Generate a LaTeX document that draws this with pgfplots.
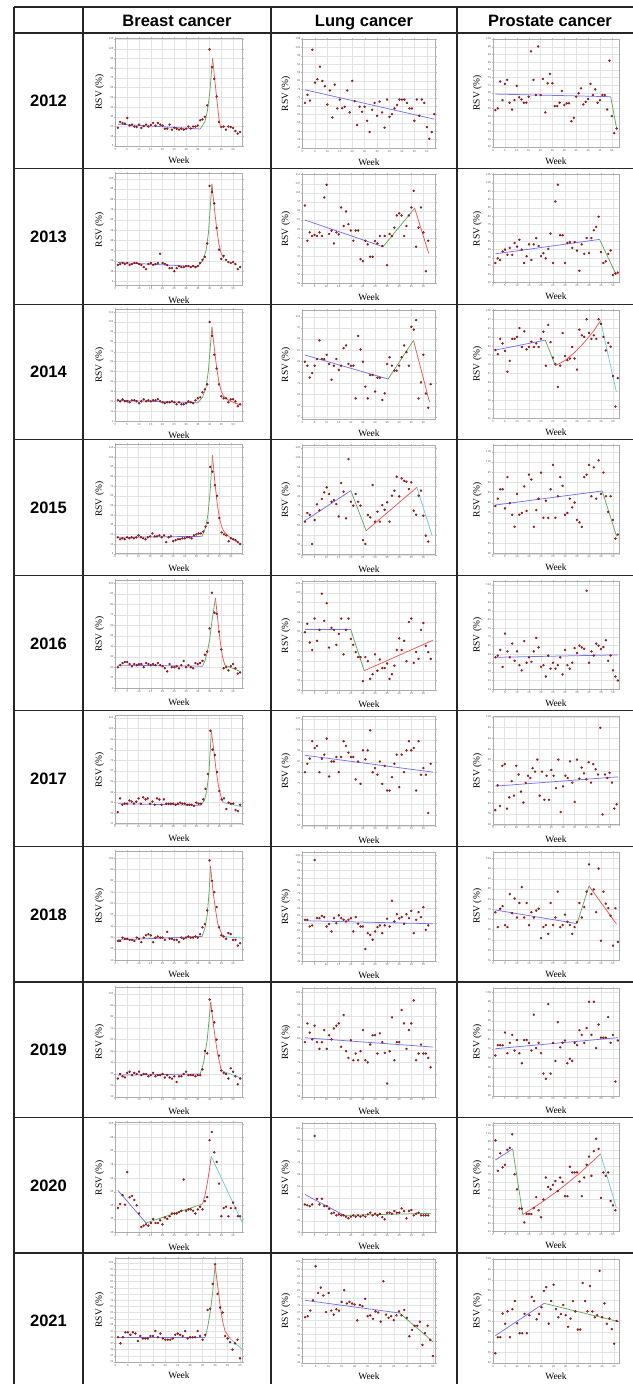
\documentclass[border=0pt]{standalone}
\usepackage{fontspec}
\setmainfont{Liberation Serif}
\setsansfont{Liberation Sans}
\newfontfamily\hdrfont{Liberation Sans}
\usepackage{pgfplots}
\pgfplotsset{compat=1.18}
\definecolor{dotred}{RGB}{200,28,28}
\definecolor{dotedge}{RGB}{105,10,10}
\definecolor{lblue}{RGB}{115,115,245}
\definecolor{lgreen}{RGB}{95,170,95}
\definecolor{lred}{RGB}{240,85,85}
\definecolor{lcyan}{RGB}{105,205,210}
\newcommand\tkf{\fontsize{2.8}{3}\sffamily}
\newcommand\lbf{\fontsize{9.5}{10}\selectfont}
\newcommand\hdr{\hdrfont\bfseries\fontsize{16.5}{18}\selectfont}
\pgfplotsset{
 pan/.style={scale only axis, anchor=north west, xmin=0, xtick={0,5,...,50},
  grid=major, major grid style={draw=gray!22, line width=0.35pt},
  axis line style={draw=gray!65, line width=0.7pt},
  tick style={draw=gray!55, line width=0.3pt}, major tick length=1.3pt, tick align=outside,
  ticklabel style={font=\tkf, text=black!65, inner sep=0.6pt},
  /pgf/number format/assume math mode=true, /pgf/number format/1000 sep={},
  xlabel={Week}, ylabel={RSV (\%)}, label style={font=\lbf},
  xlabel style={at={(axis description cs:0.5,-0.13)}, anchor=center},
  ylabel style={at={(axis description cs:-0.125,0.5)}, anchor=center},
  clip=false},
 pts/.style={only marks, mark=*, mark size=1.05pt, mark options={fill=dotred, draw=dotedge, line width=0.25pt}},
 tb/.style={no markers, line width=0.75pt, lblue},
 tg/.style={no markers, line width=0.75pt, lgreen},
 tr/.style={no markers, line width=0.75pt, lred},
 tc/.style={no markers, line width=0.75pt, lcyan},
}
\newcommand\pts[1]{\addplot[pts] table[row sep=\\, header=false, x expr=\coordindex+1, y index=0]{#1};}
\begin{document}
\begin{tikzpicture}[x=1pt,y=1pt]
\useasboundingbox (0,0) rectangle (632,-1384);
% ---- table grid
\foreach \yy in {7,33,168.6,304.1,439.7,575.2,710.8,846.3,981.9,1117.5,1253.0}
  \draw[line width=1.2pt, black!85] (14,-\yy) -- (660,-\yy);
\foreach \xx in {14,83,271,457}
  \draw[line width=1.2pt, black!85] (\xx,-7) -- (\xx,-1400);
\node[font=\hdr, anchor=base] at (177,-26) {Breast cancer};
\node[font=\hdr, anchor=base] at (364,-26) {Lung cancer};
\node[font=\hdr, anchor=base] at (550,-26) {Prostate cancer};
\foreach \yr/\yc in {2012/100.8,2013/236.3,2014/371.9,2015/507.5,2016/643.0,2017/778.6,2018/914.1,2019/1049.7,2020/1185.3,2021/1320.8}
  \node[font=\hdr, anchor=base] at (48.5,-\yc-6) {\yr};

% ================= BREAST =================
\begin{axis}[pan, at={(115.5pt,-38pt)}, width=127pt, height=108pt, ymin=5, ymax=116, ytick={5,15,...,115}, xmax=54]
\pts{23.8\\29.7\\28.6\\28\\33.8\\26\\27\\25\\24.5\\27\\23.5\\25.5\\27\\25\\26.6\\28.6\\26\\28.6\\27\\26\\22.8\\22.8\\27\\21.8\\23.8\\22.8\\21.8\\22.8\\21.8\\22.8\\25\\23\\25\\25\\26\\31.4\\32.4\\35\\46.8\\104.3\\86\\74\\56\\29.7\\24.5\\25\\21.8\\25\\24.5\\23.5\\20.4\\17.7\\19.4\\}
\addplot[tb] coordinates {(1,27.5) (36,22.5)};
\addplot[tg] coordinates {(36,22.5) (38,30) (39,40) (40,58) (41.3,95)};
\addplot[tr] coordinates {(41.3,95) (42,78) (43,55) (44,33) (44.6,25)};
\end{axis}
\begin{axis}[pan, at={(115.5pt,-173.6pt)}, width=127pt, height=112pt, ymin=4, ymax=113, ytick={8,18,...,108}, xmax=54]
\pts{24\\25\\26\\25\\26\\24\\25\\26\\26\\25\\24\\22\\20\\25\\26\\24\\25\\26\\35\\26\\25\\24\\21\\21\\18\\21\\23\\22\\22\\23\\23\\22\\23\\22\\23\\26\\29\\32\\45\\101\\95\\84\\60\\39\\30\\33\\29\\27\\26\\27\\25\\20\\22\\}
\addplot[tb] coordinates {(1,26.5) (35,22.5)};
\addplot[tg] coordinates {(35,22.5) (37,28) (38.5,38) (39.5,55) (41,103)};
\addplot[tr] coordinates {(41,103) (42,80) (43,60) (44,44) (45,35) (46,31)};
\end{axis}
\begin{axis}[pan, at={(115.5pt,-309.1pt)}, width=127pt, height=112pt, ymin=1, ymax=114, ytick={1,11,...,111}, xmax=54]
\pts{22\\21\\23\\21\\21\\20\\22\\22\\21\\19\\21\\23\\21\\22\\21\\22\\22\\23\\21\\20\\19\\20\\20\\21\\20\\18\\20\\18\\18\\19\\21\\20\\19\\22\\24\\25\\30\\33\\38\\101\\87\\68\\54\\38\\26\\24\\24\\20\\23\\23\\21\\16\\18\\}
\addplot[tb] coordinates {(1,22) (35,19.5)};
\addplot[tg] coordinates {(35,19.5) (37,25) (38.5,35) (39.5,52) (41,96)};
\addplot[tr] coordinates {(41,96) (42,75) (43,55) (44,40) (45,31) (46,26) (48,22) (51,19) (53.5,17)};
\end{axis}
\begin{axis}[pan, at={(115.5pt,-444.7pt)}, width=127pt, height=109pt, ymin=5, ymax=118, ytick={5,15,...,115}, xmax=55]
\pts{22\\20\\21\\20\\22\\21\\22\\21\\22\\24\\22\\21\\20\\22\\23\\26\\23\\23\\24\\22\\24\\17\\22\\23\\18\\19\\20\\20\\21\\21\\22\\22\\21\\24\\25\\26\\26\\28\\33\\37\\95\\90\\76\\65\\42\\27\\25\\24\\18\\21\\20\\19\\17\\15\\}
\addplot[tb] coordinates {(1,22) (37.5,23)};
\addplot[tg] coordinates {(37.5,23) (39,32) (40,45) (41,70) (42,107)};
\addplot[tr] coordinates {(42,107) (43,80) (44,58) (45,42) (46,33) (47,28) (49,23) (51,20) (54,15)};
\end{axis}
\begin{axis}[pan, at={(115.5pt,-580.2pt)}, width=127pt, height=108pt, ymin=0, ymax=103, ytick={0,10,...,100}, xmax=54]
\pts{20\\22\\24\\25\\25\\23\\21\\23\\22\\23\\23\\20\\24\\23\\22\\23\\22\\24\\22\\21\\19\\16\\23\\20\\20\\21\\19\\22\\26\\20\\22\\20\\19\\24\\23\\24\\26\\32\\35\\57\\91\\72\\71\\54\\37\\19\\20\\17\\21\\23\\19\\14\\15\\}
\addplot[tb] coordinates {(1,22) (37,21)};
\addplot[tg] coordinates {(37,21) (38,26) (39,34) (40,46) (41,64) (42.5,86)};
\addplot[tr] coordinates {(42.5,86) (43.5,65) (44.5,45) (45.5,30) (46.5,22)};
\addplot[tg] coordinates {(46.5,22) (53,16)};
\end{axis}
\begin{axis}[pan, at={(115.5pt,-715.8pt)}, width=127pt, height=108pt, ymin=11, ymax=113, ytick={11,21,...,111}, xmax=55]
\pts{22\\35\\29\\30\\30\\33\\32\\30\\32\\35\\30\\36\\34\\35\\30\\32\\29\\35\\34\\29\\34\\30\\30\\30\\30\\29\\30\\31\\30\\30\\29\\29\\29\\28\\31\\30\\30\\34\\44\\58\\99\\81\\76\\60\\42\\34\\35\\25\\31\\30\\30\\24\\23\\29\\}
\addplot[tb] coordinates {(1,30) (37,28.5)};
\addplot[tg] coordinates {(37,28.5) (38.5,33) (39.5,42) (40.5,60) (41.5,99)};
\addplot[tr] coordinates {(41.5,99) (42.5,82) (43.5,63) (44.5,48) (45.5,38) (46.6,31)};
\addplot[tc] coordinates {(46.6,31) (55,27)};
\end{axis}
\begin{axis}[pan, at={(115.5pt,-851.3pt)}, width=127pt, height=109pt, ymin=10, ymax=106, ytick={10,20,...,100}, xmax=54]
\pts{27\\27\\30\\29\\29\\28\\28\\27\\30\\29\\26\\30\\32\\33\\32\\26\\30\\31\\30\\30\\28\\35\\29\\29\\28\\28\\26\\30\\29\\30\\31\\30\\30\\31\\30\\33\\39\\42\\54\\98\\80\\70\\57\\39\\32\\31\\29\\34\\33\\28\\28\\23\\25\\}
\addplot[tb] coordinates {(1,28) (36.8,31)};
\addplot[tg] coordinates {(36.8,31) (38,38) (39,50) (39.8,70) (40.4,93)};
\addplot[tr] coordinates {(40.4,93) (41.5,70) (42.5,55) (43.5,42) (45.6,31)};
\addplot[tc] coordinates {(45.6,31) (54,29.5)};
\end{axis}
\begin{axis}[pan, at={(115.5pt,-986.9pt)}, width=127pt, height=110pt, ymin=10, ymax=106, ytick={10,20,...,100}, xmax=54]
\pts{26\\30\\28\\27\\31\\32\\29\\31\\30\\32\\29\\30\\30\\28\\29\\31\\28\\29\\29\\30\\27\\29\\27\\26\\28\\23\\28\\28\\30\\32\\29\\29\\29\\28\\29\\29\\34\\50\\48\\95\\85\\75\\60\\46\\33\\31\\30\\26\\35\\32\\28\\21\\26\\}
\addplot[tb] coordinates {(1,29) (36,30)};
\addplot[tg] coordinates {(36,30) (37.5,40) (39,60) (40.5,93)};
\addplot[tr] coordinates {(40.5,93) (41.5,75) (42.5,60) (43.5,47) (45,33)};
\addplot[tc] coordinates {(45,33) (54,26)};
\end{axis}
\begin{axis}[pan, at={(115.5pt,-1122.5pt)}, width=127pt, height=110pt, ymin=26, ymax=107, ytick={26,36,...,106}, xmax=54]
\pts{44\\47\\53.5\\46.5\\70.5\\52\\53\\50\\46\\40\\30\\31\\32\\31\\33\\36\\33\\33\\35\\32\\37\\36\\38\\40\\40\\40\\41\\42\\65\\42\\43\\43\\42\\40\\43\\45\\43\\49\\52\\94\\100\\85\\78\\62\\38\\44\\45\\38\\44\\48\\44\\38\\38\\}
\addplot[tb] coordinates {(1,57) (13,33)};
\addplot[tg] coordinates {(13,33) (37,47)};
\addplot[tr] coordinates {(37,47) (38,53) (39,62) (40,73) (40.7,82)};
\addplot[tc] coordinates {(40.7,82) (54,33)};
\end{axis}
\begin{axis}[pan, at={(115.5pt,-1258pt)}, width=127pt, height=104pt, ymin=22, ymax=106, ytick={22,27,...,102}, xmax=51]
\pts{42\\37\\42\\46\\46\\44\\46\\45\\39\\43\\41\\41\\41\\43\\43\\47\\42\\45\\41\\40\\40\\40\\41\\44\\45\\44\\43\\47\\41\\42\\42\\42\\47\\43\\40\\44\\64\\65\\85\\101\\77\\66\\62\\43\\41\\38\\32\\37\\40\\25\\}
\addplot[tb] coordinates {(1,42) (36,42)};
\addplot[tg] coordinates {(36,42) (37,50) (38,62) (39,78) (40,100)};
\addplot[tr] coordinates {(40,100) (41,84) (42,68) (43,55) (44,47) (46,41)};
\addplot[tc] coordinates {(46,41) (51,32)};
\end{axis}

% ================= LUNG =================
\begin{axis}[pan, at={(302.5pt,-39pt)}, width=133pt, height=109pt, ymin=41, ymax=106, ytick={41,46,...,106}, xmax=53.5]
\pts{67.9\\72.7\\69.3\\99.6\\80\\82\\89.5\\81\\77.8\\66.9\\75.3\\59.2\\78.8\\64.6\\69.9\\64.8\\65.6\\75.3\\62.2\\81\\68.9\\54.7\\65.6\\62.6\\65.6\\57.2\\50.5\\63.8\\67.9\\60.2\\68.7\\62.2\\53.1\\69.9\\59.6\\61.2\\64.6\\66.7\\69.9\\69.9\\69.9\\67.9\\64.6\\64.6\\57.2\\69.9\\60.2\\69.9\\67.9\\53.5\\46.5\\50.5\\61.2\\}
\addplot[tb] coordinates {(1,75.7) (53,58.2)};
\end{axis}
\begin{axis}[pan, at={(302.5pt,-174.6pt)}, width=133pt, height=109pt, ymin=52, ymax=112, ytick={52,57,...,112}, xmax=55]
\pts{95\\75.6\\80.2\\78.2\\78.8\\78.2\\80.2\\78.2\\99.4\\106.4\\79.3\\81.2\\74.1\\80.2\\79.1\\93.9\\83.7\\91.7\\84.7\\81.2\\75.6\\81.2\\81.2\\65.5\\64.4\\75.6\\73.6\\66.8\\66.8\\75.4\\74.1\\78.2\\72.7\\78.2\\62.1\\79.3\\78.2\\82.8\\89.5\\90.7\\89.5\\78.2\\83.7\\89.5\\93.9\\103.1\\72.3\\82.8\\93.9\\80.2\\58.8\\75.6\\}
\addplot[tb] coordinates {(1,87) (33.3,72.3)};
\addplot[tg] coordinates {(33.3,72.3) (46.4,93.5)};
\addplot[tr] coordinates {(46.4,93.5) (52.2,68.6)};
\end{axis}
\begin{axis}[pan, at={(302.5pt,-310.1pt)}, width=133pt, height=109pt, ymin=56, ymax=105, ytick={57,62,...,102}, xmax=55]
\pts{81.8\\80\\74.7\\76.7\\80\\83\\91.4\\83\\83\\84.9\\80.8\\73.7\\80\\83\\78.1\\80\\87.9\\89.1\\80.8\\80\\80\\65.3\\93.4\\87.3\\81.8\\70.6\\65.3\\75.8\\75.8\\68.4\\74.6\\74.6\\64.6\\67.6\\80.8\\83.8\\80\\77.8\\77.8\\80\\83.8\\89.1\\86.1\\80\\97.5\\96.2\\100.5\\65.3\\72.5\\84.9\\67.5\\61.1\\71.7\\}
\addplot[tb] coordinates {(1,84.8) (35.4,74)};
\addplot[tg] coordinates {(35.4,74) (45.9,91.4)};
\addplot[tr] coordinates {(45.9,91.4) (52.5,63.7)};
\end{axis}
\begin{axis}[pan, at={(302.5pt,-445.7pt)}, width=133pt, height=109pt, ymin=50, ymax=106, ytick={50,55,...,105}, xmax=55]
\pts{67\\71.4\\70.5\\55.5\\67.8\\75.9\\72.8\\78.6\\82\\84.6\\81.2\\77.2\\78.1\\76\\69.7\\86.8\\82.4\\68.7\\99.1\\77.2\\75.2\\81.2\\77.2\\75.2\\57.5\\55.5\\70.4\\69.2\\85.8\\67\\72.1\\67\\75.5\\73.1\\76.9\\67\\80.3\\82.9\\90.1\\80\\89.2\\88\\87.5\\83.7\\87.2\\72.6\\70.5\\80.3\\82.9\\70\\59.8\\56.7\\}
\addplot[tb] coordinates {(1,67.5) (20,82.9)};
\addplot[tg] coordinates {(20,82.9) (26.3,62.3)};
\addplot[tr] coordinates {(26.3,62.3) (47.3,84.6)};
\addplot[tc] coordinates {(47.3,84.6) (53.6,59.8)};
\end{axis}
\begin{axis}[pan, at={(302.5pt,-581.2pt)}, width=133pt, height=109pt, ymin=50, ymax=106, ytick={50,55,...,105}, xmax=55]
\pts{79.8\\84.1\\74.5\\70.7\\86.8\\75.4\\81\\99.6\\85.6\\94.7\\71.9\\82\\81\\73.3\\78.9\\86.8\\68.4\\81\\86.8\\76.3\\73.3\\69.6\\67\\67\\54.7\\67\\64.9\\55.8\\58.2\\68.4\\60\\65.8\\61.4\\61.4\\63.7\\55.8\\58.2\\62.6\\70.7\\76.6\\70.7\\75.4\\64.9\\85\\86.8\\64\\69.6\\66.1\\81\\84.5\\72.8\\69.6\\66.1\\}
\addplot[tb] coordinates {(1,81) (20,81)};
\addplot[tg] coordinates {(20,81) (25.5,60)};
\addplot[tr] coordinates {(25.5,60) (54,75.7)};
\end{axis}
\begin{axis}[pan, at={(302.5pt,-716.8pt)}, width=133pt, height=109pt, ymin=57, ymax=108, ytick={57,62,...,107}, xmax=55]
\pts{82.1\\86\\88.4\\96.6\\93.4\\94.4\\82.1\\88.4\\90.3\\97.8\\80.1\\87.1\\87.1\\89.2\\82.1\\89.2\\96.6\\94.4\\91.2\\89.2\\89.2\\78.7\\87.1\\76.6\\92.3\\88.1\\92.3\\101.7\\82.1\\84\\80.9\\87.1\\76.6\\85\\73.5\\73.5\\79.8\\86\\90.3\\75.1\\90.3\\82.1\\92.3\\96.6\\92.3\\93.4\\73.5\\96.6\\80.9\\84\\80.9\\63\\86\\}
\addplot[tb] coordinates {(1,90) (54,82.1)};
\end{axis}
\begin{axis}[pan, at={(302.5pt,-852.3pt)}, width=133pt, height=109pt, ymin=34, ymax=106, ytick={34,39,...,104}, xmax=55]
\pts{61.4\\61.4\\57\\57.7\\100.9\\62.5\\62.5\\64\\63.2\\57\\58.6\\53.7\\62.5\\59.2\\64.3\\62.5\\61.4\\60.3\\61.4\\62.5\\53.7\\63.2\\58.8\\57\\57\\42.1\\52.6\\51.5\\48.3\\53.7\\56.6\\57.7\\52.6\\57.7\\62.1\\57\\73.9\\60.3\\65.1\\62.3\\63.2\\58.8\\65.1\\62.5\\67.3\\52.6\\61.4\\66.5\\63.2\\69.7\\54.8\\57.7\\}
\addplot[tb] coordinates {(1,60.8) (54,58.8)};
\end{axis}
\begin{axis}[pan, at={(302.5pt,-987.9pt)}, width=133pt, height=109pt, ymin=58, ymax=105, ytick={58,63,...,103}, xmax=55]
\pts{81.6\\89.7\\85.7\\82.8\\88.7\\81.6\\78.7\\81.6\\86.8\\78.7\\84.6\\82.8\\87.5\\88.7\\89.7\\79.6\\93.3\\77.7\\74.8\\82.4\\73.8\\76.7\\73.8\\77.7\\86.8\\73.8\\72.9\\80.6\\84.6\\84.6\\76.7\\85.4\\81.6\\77\\63.8\\77.7\\92.3\\73.8\\81.6\\81.6\\95.5\\89.7\\78.7\\86.8\\89.7\\99.6\\73.8\\76.7\\80.6\\76.7\\76.7\\74.8\\70.8\\}
\addplot[tb] coordinates {(1,83.5) (54,79.5)};
\end{axis}
\begin{axis}[pan, at={(302.5pt,-1123.5pt)}, width=133pt, height=109pt, ymin=14, ymax=108, ytick={14,24,...,104}, xmax=55]
\pts{38.2\\37.6\\36.8\\38.2\\97.2\\43.1\\38.2\\43.1\\36.8\\36.8\\34.5\\30.5\\31.1\\28.8\\29.7\\28.8\\28.8\\27.7\\26.3\\27.7\\28.8\\27.7\\28.8\\27.7\\28.8\\27.7\\29.7\\31.1\\28.8\\30.2\\28.8\\30.2\\27.2\\25.4\\31.1\\31.1\\30.2\\32.5\\31.1\\31.1\\34.8\\32.5\\26.3\\32.5\\33.4\\28.8\\30.2\\31.1\\28.8\\28.8\\28.8\\28.8\\}
\addplot[tb] coordinates {(1,46.8) (17.2,28.8)};
\addplot[tg] coordinates {(17.2,28.8) (53,30.5)};
\end{axis}
\begin{axis}[pan, at={(302.5pt,-1259pt)}, width=133pt, height=104pt, ymin=32, ymax=104, ytick={32,37,...,102}, xmax=51]
\pts{63.7\\64.4\\68.3\\75.4\\99\\80.5\\84.2\\78.7\\67.2\\80.5\\68.3\\65.5\\69.2\\68.3\\74.3\\82.4\\73.2\\74.3\\73.2\\72.5\\61.5\\72.1\\71.4\\76.5\\64.4\\65\\62.6\\67.7\\67\\60.6\\88.6\\65.5\\63.3\\64.4\\61.7\\65\\67.7\\65\\68.8\\63.3\\50.5\\54.9\\57.8\\57.8\\60.6\\44.6\\52.7\\57.8\\48\\36.8\\}
\addplot[tb] coordinates {(1,75.4) (37.2,66.6)};
\addplot[tg] coordinates {(37.2,66.6) (50,46.8)};
\end{axis}

% ================= PROSTATE =================
\begin{axis}[pan, at={(493pt,-39pt)}, width=126pt, height=108pt, ymin=34, ymax=104, ytick={34,39,...,104}, xmax=53]
\pts{57.9\\59\\76.4\\64.4\\74.9\\77.5\\62.7\\58.3\\64.4\\73.6\\66.2\\64.9\\62.7\\62.7\\66.6\\96\\77.5\\67.7\\99.2\\67.7\\78.1\\56.4\\75.3\\81.4\\75.3\\60.5\\60.5\\62.7\\70.3\\61.2\\62.3\\62.3\\50.7\\52.9\\66.6\\68.8\\72\\61.6\\63.3\\65.1\\74.9\\67.7\\71.4\\62.7\\64.4\\67.7\\67.7\\58.3\\90\\54\\43\\46\\}
\addplot[tb] coordinates {(1,68.3) (49.5,66.6)};
\addplot[tg] coordinates {(49.5,66.6) (52,46)};
\end{axis}
\begin{axis}[pan, at={(493pt,-174.6pt)}, width=126pt, height=108pt, ymin=40, ymax=105, ytick={40,45,...,105}, xmax=52.5]
\pts{51.8\\54.6\\53.6\\58.7\\59.9\\56.7\\60.9\\56.7\\63.8\\61.7\\65.8\\59.9\\51.8\\55.9\\63\\53.6\\63\\66.8\\62\\55.9\\57.7\\54.6\\60.3\\69.5\\51.8\\88.8\\98.9\\68.5\\68.5\\51.8\\63.8\\64.4\\60.9\\64.4\\59.3\\47.1\\63\\57.3\\66.8\\57.9\\66.8\\71.5\\73.5\\79.6\\58.3\\51.8\\52.8\\57.3\\59.3\\44.5\\45.5\\46\\}
\addplot[tb] coordinates {(1,57.3) (44.4,66)};
\addplot[tg] coordinates {(44.4,66) (51.4,44.5)};
\end{axis}
\begin{axis}[pan, at={(493pt,-310.1pt)}, width=126pt, height=108pt, ymin=42, ymax=102, ytick={42,47,...,102}, xmax=52.5]
\pts{79.8\\77.5\\86\\83.5\\79.3\\67.8\\73.8\\86\\86\\87.1\\92\\81.5\\90.2\\80.2\\81.6\\84.4\\81.5\\83.5\\81.5\\86\\90\\71.1\\93.8\\84.2\\75.6\\72\\59.3\\71.1\\89.3\\76.5\\74.2\\75.1\\81.5\\75.1\\68.9\\91.1\\88\\87.1\\96.9\\89.3\\86\\88\\86\\96.9\\94.4\\87.1\\79.6\\83.8\\81.6\\65.3\\48.4\\64.2\\}
\addplot[tb] coordinates {(1,79.8) (21.8,85.3)};
\addplot[tg] coordinates {(21.8,85.3) (26,71.1)};
\addplot[tr] coordinates {(26,71.1) (30,74) (34,78.5) (38,84) (42,90.5) (44.8,96.2)};
\addplot[tc] coordinates {(44.8,96.2) (51.4,56.5)};
\end{axis}
\begin{axis}[pan, at={(493pt,-445.7pt)}, width=126pt, height=108pt, ymin=55, ymax=108, ytick={55,60,...,105}, xmax=52.5]
\pts{78.4\\82\\86.6\\86.6\\77.2\\92.6\\79.8\\74.1\\68.2\\84.4\\74.1\\75\\88\\76\\93.8\\91.4\\68.2\\76.4\\82\\94.8\\72.6\\81\\72.6\\86.6\\98.6\\72.6\\83.2\\92.6\\88.3\\74.1\\75\\82\\77.7\\80.1\\71.6\\70.4\\68.2\\92.6\\93.8\\98.6\\83.2\\97.4\\82\\100.8\\84.4\\94.8\\83.2\\75.5\\83.2\\71.6\\62.4\\64.4\\}
\addplot[tb] coordinates {(1,78.9) (45.5,85.8)};
\addplot[tg] coordinates {(45.5,85.8) (51.5,63.5)};
\end{axis}
\begin{axis}[pan, at={(493pt,-581.2pt)}, width=126pt, height=108pt, ymin=44, ymax=106, ytick={44,49,...,104}, xmax=52.5]
\pts{62.3\\63.3\\66.6\\56.8\\75.9\\65.7\\62.3\\70.2\\60.3\\65.7\\57.8\\54.8\\71.6\\59.2\\62.3\\59.7\\65.7\\73.5\\68\\56.8\\57.8\\51.3\\63.3\\55.8\\59.2\\55.8\\57.8\\62.3\\52.5\\66.6\\57.8\\55.8\\59.2\\67.6\\64.7\\69\\68\\67.2\\100.5\\59.2\\65.7\\63.3\\70.2\\69\\67\\68.2\\72.1\\60.3\\63.3\\54.8\\51.3\\49\\}
\addplot[tb] coordinates {(1,62.3) (52,63.7)};
\end{axis}
\begin{axis}[pan, at={(493pt,-716.8pt)}, width=126pt, height=108pt, ymin=54, ymax=104, ytick={54,59,...,104}, xmax=54]
\pts{60.8\\72.3\\62.7\\81.3\\82.1\\61.5\\66.7\\74.2\\67.5\\81.3\\77.3\\69.4\\64.3\\73.4\\76.7\\75.7\\80.2\\78.6\\84.2\\67.5\\78.6\\65.6\\76.7\\65.6\\79.4\\76.7\\71\\84.2\\59.9\\71.8\\76.7\\75.7\\83.4\\73.5\\64.6\\84.2\\75.4\\80.5\\77.8\\75.1\\83\\73.5\\82.1\\79.7\\77.3\\98.9\\58.8\\77.3\\75.7\\78.1\\73.5\\61.5\\63.5\\}
\addplot[tb] coordinates {(1,71.9) (53.5,76.2)};
\end{axis}
\begin{axis}[pan, at={(493pt,-852.3pt)}, width=126pt, height=108pt, ymin=51, ymax=104, ytick={51,56,...,101}, xmax=52.5]
\pts{74.6\\67.3\\76.3\\77.6\\68.3\\67.3\\83.5\\74.1\\81.3\\72\\79.1\\86.9\\72\\79.1\\68.3\\74.6\\72\\75.4\\76.3\\61.9\\67.3\\68.3\\64\\79.1\\68.3\\72\\84.7\\67.3\\68.3\\73.4\\69.9\\68.3\\64\\67.3\\69.9\\79.1\\72\\77.1\\84.7\\98.1\\83.5\\85.8\\74.6\\96\\60.6\\84.7\\78.8\\76.6\\72.9\\58.2\\76.6\\60\\}
\addplot[tb] coordinates {(1,75.7) (35,69)};
\addplot[tg] coordinates {(35,69) (40,87.5)};
\addplot[tr] coordinates {(40,87.5) (51.5,68.7)};
\end{axis}
\begin{axis}[pan, at={(493pt,-987.9pt)}, width=126pt, height=108pt, ymin=56, ymax=102, ytick={56,60,...,100}, xmax=52.5]
\pts{73.2\\77.6\\77.6\\77.6\\83\\74.2\\78.6\\82\\75.3\\79.8\\74.2\\69.9\\79.8\\79.8\\78.6\\75.3\\90.6\\76.4\\78.6\\74.2\\65.5\\63.3\\95.1\\65.5\\78.6\\70.9\\87.4\\76.7\\78.6\\79.6\\69.9\\71.8\\70.9\\78.6\\77.6\\84\\82\\78.6\\84.9\\96.1\\82\\96.1\\76.4\\86.4\\80.8\\80.8\\80.8\\89.6\\78.6\\82\\62.1\\79.6\\}
\addplot[tb] coordinates {(1,76.1) (52,80.8)};
\end{axis}
\begin{axis}[pan, at={(493pt,-1123.5pt)}, width=126pt, height=108pt, ymin=41, ymax=107, ytick={41,46,...,106}, xmax=52.5]
\pts{96.7\\78.1\\88.8\\80.2\\81.8\\90.9\\92.1\\100.4\\76\\66.8\\55\\55\\46.6\\51.7\\51.7\\51.7\\55.4\\62\\54\\49.7\\60.6\\74\\68.2\\66.8\\69.5\\71.9\\65.7\\74\\71.3\\62.6\\62.6\\80.6\\77.1\\77.1\\77.1\\71.5\\62.6\\74\\81.8\\86.8\\75\\90.1\\97.7\\91.5\\61.6\\77.1\\75\\77.1\\59.6\\57\\54\\}
\addplot[tb] coordinates {(1,84.7) (8.2,91.5)};
\addplot[tg] coordinates {(8.2,91.5) (12.4,51.3)};
\addplot[tr] coordinates {(12.4,51.3) (20,58.5) (28,67) (36,76.5) (44.8,88.4)};
\addplot[tc] coordinates {(44.8,88.4) (51.4,55.4)};
\end{axis}
\begin{axis}[pan, at={(493pt,-1259pt)}, width=126pt, height=104pt, ymin=54, ymax=104, ytick={54,59,...,104}, xmax=52]
\pts{58.7\\66.4\\66.4\\77.8\\72.9\\78.8\\66.4\\79.9\\83.8\\73.1\\68.3\\68.3\\77.6\\68.3\\77\\85.8\\83.8\\75\\77.6\\80.9\\88.6\\90.5\\72.9\\83.8\\91.6\\79.9\\76\\77.6\\81.9\\77\\71.4\\75.3\\83.8\\78.8\\70.1\\70.1\\92.5\\83.8\\78.8\\91\\78.8\\76\\77\\98.3\\76\\82.7\\72.9\\75.4\\70.3\\63.3\\74.2\\}
\addplot[tb] coordinates {(1,67.2) (21.1,82.7)};
\addplot[tg] coordinates {(21.1,82.7) (51.9,73.9)};
\end{axis}
\end{tikzpicture}
\end{document}
